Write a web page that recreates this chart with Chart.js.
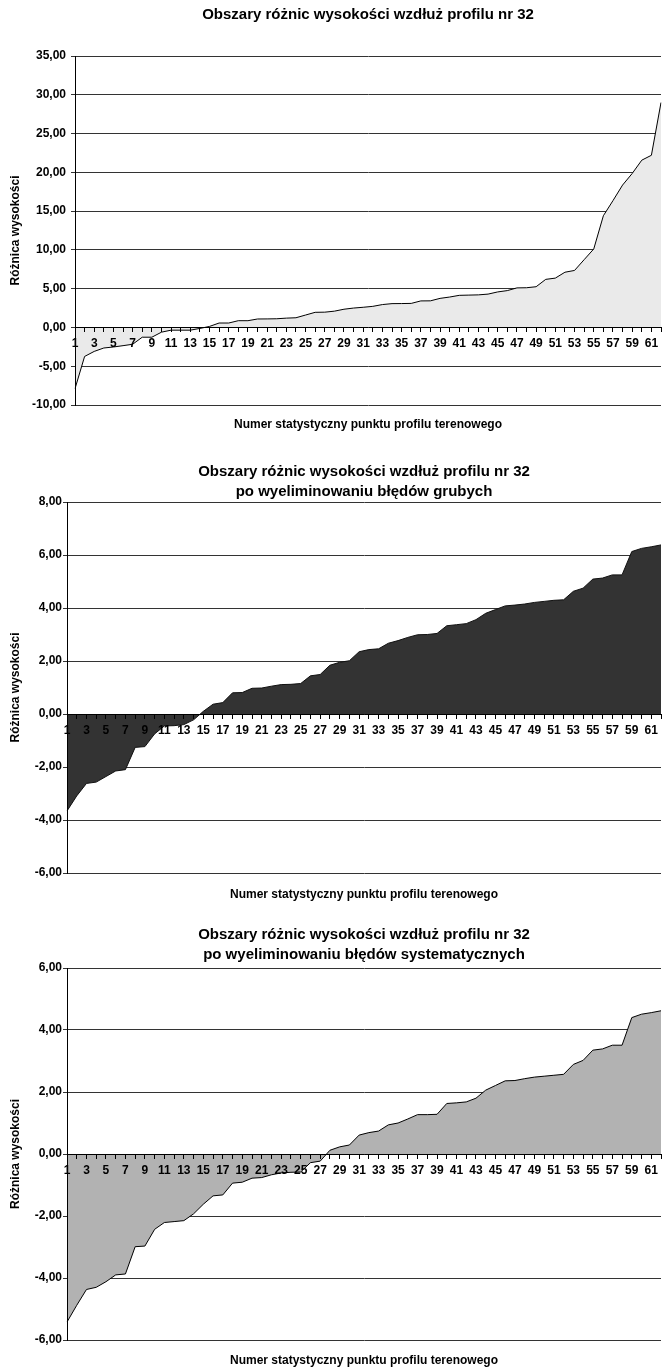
<!DOCTYPE html>
<html><head><meta charset="utf-8">
<script src="https://cdn.jsdelivr.net/npm/chart.js@4.4.1/dist/chart.umd.min.js"></script>
<style>
html,body{margin:0;padding:0;background:#fff;overflow:hidden;width:666px;height:1372px;}
.box{position:absolute;left:0;width:666px;}
</style></head><body>
<div class="box" style="top:0;height:440px"><canvas id="c1"></canvas></div>
<div class="box" style="top:440px;height:466px"><canvas id="c2"></canvas></div>
<div class="box" style="top:906px;height:466px"><canvas id="c3"></canvas></div>
<script>
const categories = ['1','2','3','4','5','6','7','8','9','10','11','12','13','14','15','16','17','18','19','20','21','22','23','24','25','26','27','28','29','30','31','32','33','34','35','36','37','38','39','40','41','42','43','44','45','46','47','48','49','50','51','52','53','54','55','56','57','58','59','60','61','62'];

const seriesAll = [-7.9,-3.74,-3.09,-2.65,-2.52,-2.35,-2.17,-1.26,-1.26,-0.61,-0.35,-0.35,-0.35,-0.13,0.13,0.57,0.57,0.87,0.87,1.09,1.1,1.12,1.2,1.25,1.6,1.95,1.97,2.1,2.35,2.5,2.6,2.72,2.95,3.07,3.08,3.1,3.42,3.43,3.75,3.92,4.14,4.17,4.2,4.3,4.58,4.75,5.1,5.12,5.25,6.2,6.36,7.12,7.35,8.74,10.12,14.4,16.35,18.36,19.85,21.57,22.2,29.0];

const seriesNoGross = [-3.66,-3.09,-2.62,-2.57,-2.36,-2.15,-2.1,-1.26,-1.23,-0.75,-0.45,-0.44,-0.4,-0.22,0.1,0.37,0.43,0.8,0.81,0.97,0.98,1.05,1.11,1.12,1.15,1.44,1.49,1.84,1.95,2.01,2.35,2.43,2.46,2.67,2.77,2.89,2.99,3.0,3.04,3.33,3.37,3.41,3.56,3.8,3.94,4.08,4.11,4.15,4.21,4.25,4.29,4.31,4.63,4.75,5.09,5.13,5.25,5.25,6.13,6.25,6.31,6.38];

const seriesNoSyst = [-5.42,-4.88,-4.37,-4.3,-4.12,-3.9,-3.87,-2.99,-2.97,-2.43,-2.21,-2.18,-2.15,-1.93,-1.62,-1.35,-1.32,-0.94,-0.91,-0.78,-0.76,-0.67,-0.61,-0.59,-0.58,-0.28,-0.23,0.12,0.23,0.29,0.61,0.69,0.74,0.94,1.0,1.13,1.27,1.27,1.28,1.63,1.65,1.68,1.8,2.06,2.21,2.36,2.37,2.43,2.48,2.51,2.54,2.57,2.89,3.02,3.35,3.39,3.51,3.51,4.4,4.51,4.56,4.62];

const yTicks1 = [-10,-5,0,5,10,15,20,25,30,35];
const yTicks2 = [-6,-4,-2,0,2,4,6,8];
const yTicks3 = [-6,-4,-2,0,2,4,6];

const title1 = 'Obszary różnic wysokości wzdłuż profilu nr 32';
const title2 = ['Obszary różnic wysokości wzdłuż profilu nr 32', 'po wyeliminowaniu błędów grubych'];
const title3 = ['Obszary różnic wysokości wzdłuż profilu nr 32', 'po wyeliminowaniu błędów systematycznych'];
const xTitle = 'Numer statystyczny punktu profilu terenowego';
const yTitle = 'Różnica wysokości';

const FAM = "'Liberation Sans', Arial, Helvetica, sans-serif";

function makeChart(id, cfg) {
  new Chart(document.getElementById(id), {
    type: 'line',
    data: {
      labels: categories,
      datasets: [{
        data: cfg.data,
        fill: 'origin',
        backgroundColor: cfg.fill,
        borderColor: cfg.line,
        borderWidth: 1,
        pointRadius: 0,
        tension: 0
      }]
    },
    options: {
      responsive: true,
      maintainAspectRatio: false,
      animation: false,
      events: [],
      layout: { padding: { left: 0, right: 1, top: 0, bottom: 0 } },
      plugins: {
        legend: { display: false },
        tooltip: { enabled: false },
        title: {
          display: true,
          text: cfg.title,
          fullSize: false,
          color: '#000',
          font: { family: FAM, size: 15, weight: 'bold', lineHeight: '20px' },
          padding: { top: cfg.titlePadTop, bottom: cfg.titlePadBottom }
        }
      },
      scales: {
        x: {
          type: 'category',
          position: { y: 0 },
          offset: false,
          grid: { display: true, drawOnChartArea: false, drawTicks: true, tickLength: 4, color: '#000', lineWidth: 1, z: 1 },
          border: { display: true, color: '#000', width: 1, z: 1 },
          ticks: {
            z: 1,
            autoSkip: false, maxRotation: 0, minRotation: 0, padding: 5, color: '#000',
            font: { family: FAM, size: 12, weight: 'bold' },
            callback: (v, i) => (i % 2 === 0 ? categories[i] : '')
          }
        },
        xt: {
          type: 'category',
          axis: 'x',
          position: 'bottom',
          display: true,
          grid: { display: false },
          border: { display: false },
          ticks: { display: false },
          title: {
            display: true, text: xTitle, color: '#000',
            font: { family: FAM, size: 12, weight: 'bold', lineHeight: '14px' },
            padding: { top: 0, bottom: cfg.xTitlePad }
          },
          afterFit: s => { s.height = cfg.xTitleH; }
        },
        y: {
          type: 'linear',
          min: cfg.yTicks[0],
          max: cfg.yTicks[cfg.yTicks.length - 1],
          afterBuildTicks: s => { s.ticks = cfg.yTicks.map(v => ({ value: v })); },
          grid: { color: '#333', lineWidth: 1, drawTicks: true, tickLength: 4 },
          border: { display: true, color: '#000', width: 1, z: 1 },
          ticks: {
            color: '#000', padding: cfg.yTickPad,
            font: { family: FAM, size: 12, weight: 'bold' },
            callback: v => v.toFixed(2).replace('.', ',')
          },
          title: {
            display: true, text: yTitle, color: '#000',
            font: { family: FAM, size: 12, weight: 'bold', lineHeight: '14px' },
            padding: { top: 9, bottom: 0 }
          },
          afterFit: s => { s.width = cfg.left; }
        }
      }
    }
  });
}

makeChart('c1', { data: seriesAll, fill: '#EAEAEA', line: '#000', title: title1, titlePadTop: 5, titlePadBottom: 31, yTicks: yTicks1, left: 75, yTickPad: 5, xTitlePad: 8, xTitleH: 35 });
makeChart('c2', { data: seriesNoGross, fill: '#333333', line: '#111', title: title2, titlePadTop: 22, titlePadBottom: 0, yTicks: yTicks2, left: 67, yTickPad: 1, xTitlePad: 4, xTitleH: 33 });
makeChart('c3', { data: seriesNoSyst, fill: '#B2B2B2', line: '#000', title: title3, titlePadTop: 19, titlePadBottom: 3, yTicks: yTicks3, left: 67, yTickPad: 1, xTitlePad: 4, xTitleH: 32 });
</script>
</body></html>
